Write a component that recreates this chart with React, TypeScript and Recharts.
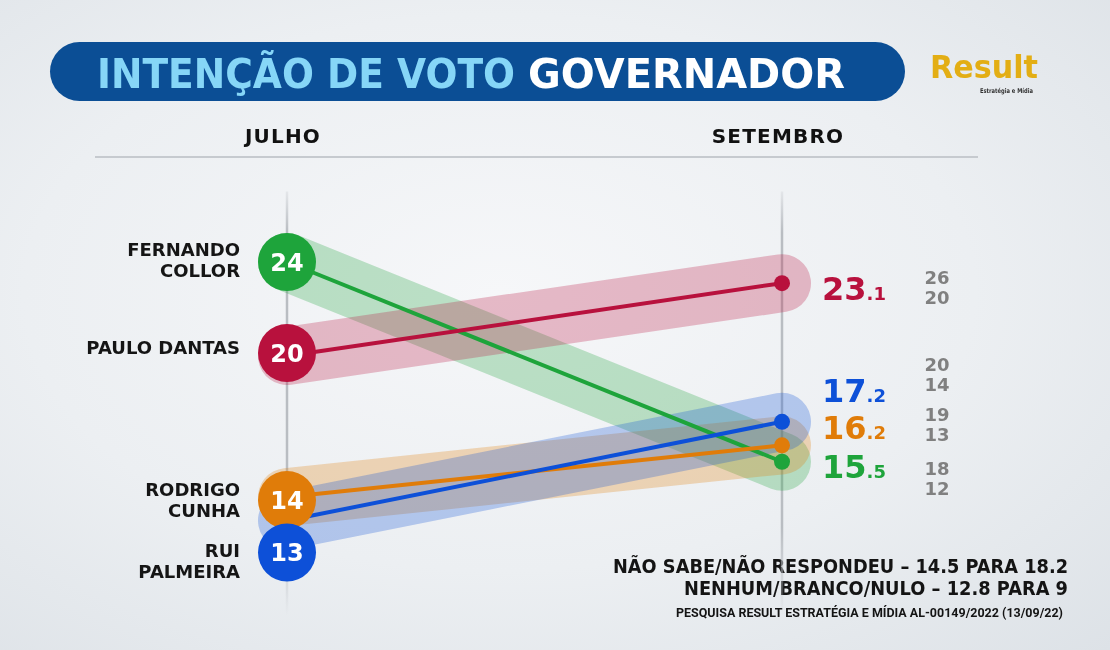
import React from "react";
import { LineChart, Line, XAxis, YAxis, ReferenceLine } from "recharts";

const periods = ["JULHO", "SETEMBRO"];
const candidates = ["FERNANDO COLLOR", "PAULO DANTAS", "RODRIGO CUNHA", "RUI PALMEIRA"];
const nameLines = [["FERNANDO", "COLLOR"], ["PAULO DANTAS"], ["RODRIGO", "CUNHA"], ["RUI", "PALMEIRA"]];
const julho = [24, 20, 14, 13];
const setembro = [15.5, 23.1, 16.2, 17.2];
const upperRange = [18, 26, 19, 20];
const lowerRange = [12, 20, 13, 14];
const colors = ["#1ea43b", "#b8113d", "#e07c09", "#0d50d8"];

const titleA = "INTENÇÃO DE VOTO";
const titleB = "GOVERNADOR";
const footerLines = ["NÃO SABE/NÃO RESPONDEU –  14.5 PARA 18.2", "NENHUM/BRANCO/NULO – 12.8 PARA 9"];
const sourceText = "PESQUISA RESULT ESTRATÉGIA E MÍDIA AL-00149/2022 (13/09/22)";

// label placement offsets (px) so labels don't collide
const leftNudge = [0, -3, 3, 32];
const nameNudge = [-2, -6, 0, 8];
const rightLabelNudge = [4, 5, -18, -32];
const rangeNudge = [16, 4, -21, -48];

const FONT = "'DejaVu Sans', sans-serif";

const data = periods.map((p, i) => {
  const row: any = { period: p };
  candidates.forEach((_, ci) => {
    row["c" + ci] = i === 0 ? julho[ci] : setembro[ci];
  });
  return row;
});

const HeaderTick = (props: any) => {
  const { x, payload } = props;
  return (
    <text x={x - 4} y={143} textAnchor="middle" fontFamily={FONT} fontWeight={700} fontSize={20} letterSpacing={1.2} fill="#111">
      {payload.value}
    </text>
  );
};

const makeDot = (ci: number) => (props: any) => {
  const { cx, cy, index } = props;
  if (cx == null || cy == null) return <g key={`e${ci}-${index}`} />;
  const color = colors[ci];
  if (index === 0) {
    const y = cy + leftNudge[ci];
    const lines = nameLines[ci];
    const lh = 21;
    const startY = y + nameNudge[ci] - ((lines.length - 1) * lh) / 2;
    return (
      <g key={`l${ci}`}>
        {lines.map((t, k) => (
          <text key={k} x={cx - 47} y={startY + k * lh + 6.5} textAnchor="end" fontFamily={FONT} fontWeight={700} fontSize={18} fill="#151515">
            {t}
          </text>
        ))}
        <circle cx={cx} cy={y} r={29} fill={color} />
        <text x={cx} y={y + 8.5} textAnchor="middle" fontFamily={FONT} fontWeight={700} fontSize={24} fill="#fff">
          {julho[ci]}
        </text>
      </g>
    );
  }
  const v = setembro[ci].toFixed(1).split(".");
  const ly = cy + rightLabelNudge[ci];
  const ry = cy + rangeNudge[ci];
  return (
    <g key={`r${ci}`}>
      <circle cx={cx} cy={cy} r={8} fill={color} />
      <text x={cx + 40} y={ly + 12} fontFamily={FONT} fontWeight={700} fill={color}>
        <tspan fontSize={32}>{v[0]}</tspan>
        <tspan fontSize={18}>.{v[1]}</tspan>
      </text>
      <text x={cx + 155} y={ry - 3} textAnchor="middle" fontFamily={FONT} fontWeight={700} fontSize={18} fill="#808080">
        {upperRange[ci]}
      </text>
      <text x={cx + 155} y={ry + 17} textAnchor="middle" fontFamily={FONT} fontWeight={700} fontSize={18} fill="#808080">
        {lowerRange[ci]}
      </text>
    </g>
  );
};

export default function App() {
  return (
    <div
      style={{
        position: "fixed",
        left: 0,
        top: 0,
        width: 1110,
        height: 650,
        overflow: "hidden",
        background: "radial-gradient(ellipse at 45% 45%, #f6f7f9 0%, #eceff2 55%, #dde2e7 100%)",
      }}
    >
      <svg width={1110} height={650} style={{ position: "absolute", left: 0, top: 0 }}>
        <rect x={50} y={42} width={855} height={59} rx={29.5} fill="#0b4e95" />
        <text x={97} y={88} fontFamily={FONT} fontWeight={700} fontSize={41} fill="#86d6f7" textLength={418} lengthAdjust="spacingAndGlyphs">
          {titleA}
        </text>
        <text x={528} y={88} fontFamily={FONT} fontWeight={700} fontSize={41} fill="#ffffff" textLength={317} lengthAdjust="spacingAndGlyphs">
          {titleB}
        </text>
        <text x={930} y={78} fontFamily={FONT} fontWeight={700} fontSize={32} fill="#e3ae14" textLength={108} lengthAdjust="spacingAndGlyphs">
          Result
        </text>
        <text x={980} y={93} fontFamily={FONT} fontWeight={700} fontSize={6.5} fill="#333" textLength={53} lengthAdjust="spacingAndGlyphs">
          Estratégia e Mídia
        </text>
        <line x1={95} y1={157} x2={978} y2={157} stroke="#c6cacf" strokeWidth={2} />
        <text x={1068} y={573} textAnchor="end" fontFamily={FONT} fontWeight={700} fontSize={19} fill="#141414" textLength={455} lengthAdjust="spacingAndGlyphs">
          {footerLines[0]}
        </text>
        <text x={1068} y={595} textAnchor="end" fontFamily={FONT} fontWeight={700} fontSize={19} fill="#141414" textLength={384} lengthAdjust="spacingAndGlyphs">
          {footerLines[1]}
        </text>
        <text x={1063} y={617} textAnchor="end" fontFamily="Roboto, sans-serif" fontWeight={700} fontSize={12.5} fill="#141414" textLength={387} lengthAdjust="spacingAndGlyphs">
          {sourceText}
        </text>
      </svg>
      <div style={{ position: "absolute", left: 0, top: 0 }}>
        <LineChart width={1110} height={650} data={data} margin={{ top: 161.5, right: 0, bottom: 12, left: 0 }}>
          <defs>
            <linearGradient id="vfade" gradientUnits="userSpaceOnUse" x1={0} y1={180} x2={0} y2={615}>
              <stop offset="0" stopColor="#b9bdc2" stopOpacity={0} />
              <stop offset="0.12" stopColor="#b9bdc2" stopOpacity={1} />
              <stop offset="0.8" stopColor="#b9bdc2" stopOpacity={1} />
              <stop offset="1" stopColor="#b9bdc2" stopOpacity={0} />
            </linearGradient>
          </defs>
          <XAxis
            dataKey="period"
            orientation="top"
            height={30}
            padding={{ left: 287, right: 328 }}
            axisLine={false}
            tickLine={false}
            tick={<HeaderTick />}
            interval={0}
          />
          <YAxis hide type="number" domain={[8, 27]} />
          {periods.map((p) => (
            <ReferenceLine key={"ref" + p} x={p} stroke="url(#vfade)" strokeWidth={2.5} />
          ))}
          {candidates.map((c, ci) => (
            <Line
              key={"band" + ci}
              name={c + " faixa"}
              type="linear"
              dataKey={"c" + ci}
              stroke={colors[ci]}
              strokeOpacity={0.27}
              strokeWidth={58}
              strokeLinecap="round"
              dot={false}
              activeDot={false}
              legendType="none"
              isAnimationActive={false}
            />
          ))}
          {candidates.map((c, ci) => (
            <Line
              key={"line" + ci}
              name={c}
              type="linear"
              dataKey={"c" + ci}
              stroke={colors[ci]}
              strokeWidth={4}
              dot={false}
              activeDot={false}
              legendType="none"
              isAnimationActive={false}
            />
          ))}
          {candidates.map((c, ci) => (
            <Line
              key={"lab" + ci}
              name={c + " rótulo"}
              type="linear"
              dataKey={"c" + ci}
              stroke="none"
              dot={makeDot(ci)}
              activeDot={false}
              legendType="none"
              isAnimationActive={false}
            />
          ))}
        </LineChart>
      </div>
    </div>
  );
}
